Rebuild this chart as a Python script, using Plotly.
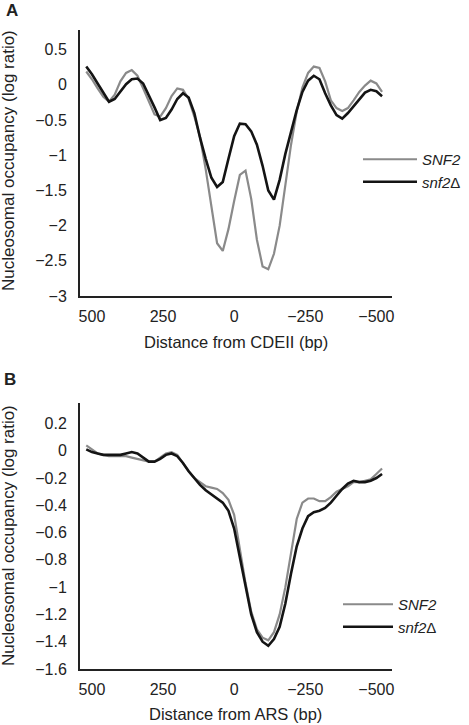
import plotly.graph_objects as go

# ---------------- data ----------------
distance_bp = [520, 500, 480, 460, 440, 420, 400, 380, 360, 340, 320, 300, 280, 260, 240, 220,
               200, 180, 160, 140, 120, 100, 80, 60, 40, 20, 0, -20, -40, -60, -80, -100,
               -120, -140, -160, -180, -200, -220, -240, -260, -280, -300, -320, -340, -360,
               -380, -400, -420, -440, -460, -480, -500, -520]

# Panel A: around CDEII
cde_snf2 = [0.19, 0.08, -0.05, -0.17, -0.24, -0.14, 0.05, 0.17, 0.21, 0.13, -0.05, -0.24, -0.42,
            -0.45, -0.33, -0.16, -0.05, -0.07, -0.20, -0.45, -0.74, -1.20, -1.75, -2.25, -2.36,
            -2.05, -1.65, -1.28, -1.22, -1.62, -2.20, -2.58, -2.62, -2.40, -2.00, -1.40, -0.85,
            -0.38, -0.04, 0.17, 0.26, 0.24, 0.05, -0.22, -0.33, -0.37, -0.33, -0.22, -0.10,
            -0.01, 0.06, 0.02, -0.10]
cde_snf2d = [0.26, 0.15, 0.02, -0.12, -0.24, -0.20, -0.09, 0.01, 0.08, 0.09, 0.02, -0.14, -0.32,
             -0.50, -0.47, -0.35, -0.20, -0.12, -0.18, -0.40, -0.75, -1.05, -1.32, -1.45, -1.38,
             -1.05, -0.73, -0.55, -0.56, -0.66, -0.85, -1.15, -1.50, -1.63, -1.35, -0.98, -0.66,
             -0.36, -0.10, 0.06, 0.13, 0.08, -0.12, -0.29, -0.43, -0.48, -0.40, -0.30, -0.20,
             -0.11, -0.07, -0.09, -0.16]

# Panel B: around ARS
ars_snf2 = [0.04, 0.01, -0.02, -0.03, -0.04, -0.04, -0.04, -0.04, -0.05, -0.06, -0.07, -0.08,
            -0.08, -0.05, -0.02, -0.01, -0.03, -0.09, -0.15, -0.20, -0.23, -0.26, -0.27, -0.28,
            -0.31, -0.36, -0.47, -0.72, -0.97, -1.18, -1.31, -1.37, -1.39, -1.33, -1.20, -1.00,
            -0.75, -0.50, -0.38, -0.35, -0.35, -0.37, -0.37, -0.34, -0.30, -0.28, -0.26, -0.23,
            -0.23, -0.22, -0.21, -0.17, -0.13]
ars_snf2d = [0.01, -0.01, -0.02, -0.03, -0.03, -0.03, -0.03, -0.02, -0.01, -0.02, -0.05, -0.08,
             -0.08, -0.06, -0.03, -0.02, -0.04, -0.09, -0.15, -0.20, -0.25, -0.29, -0.32, -0.35,
             -0.38, -0.44, -0.57, -0.78, -1.00, -1.20, -1.33, -1.40, -1.43, -1.38, -1.29, -1.12,
             -0.90, -0.70, -0.57, -0.48, -0.45, -0.44, -0.42, -0.38, -0.33, -0.28, -0.24, -0.22,
             -0.23, -0.23, -0.22, -0.20, -0.17]

x_tickvals = [500, 250, 0, -250, -500]
x_ticktext = ["500", "250", "0", "\u2212250", "\u2212500"]
yA_tickvals = [0.5, 0, -0.5, -1, -1.5, -2, -2.5, -3]
yA_ticktext = ["0.5", "0", "\u22120.5", "\u22121", "\u22121.5", "\u22122", "\u22122.5", "\u22123"]
yB_tickvals = [0.2, 0, -0.2, -0.4, -0.6, -0.8, -1, -1.2, -1.4, -1.6]
yB_ticktext = ["0.2", "0", "\u22120.2", "\u22120.4", "\u22120.6", "\u22120.8", "\u22121",
               "\u22121.2", "\u22121.4", "\u22121.6"]

series_names = ["<i>SNF2</i>", "<i>snf2</i>\u0394"]

# ---------------- style ----------------
W, H = 469, 725
FONT = "Liberation Sans, Arial, sans-serif"
GRAY = "#8a8a8a"
BLACK = "#141414"
AXIS = "#222222"

def px_x(p):
    return p / W

def px_y(p):
    return 1 - p / H

fig = go.Figure()

fig.add_trace(go.Scatter(x=distance_bp, y=cde_snf2, mode="lines", name=series_names[0],
                         line=dict(color=GRAY, width=2.2), xaxis="x", yaxis="y", legend="legend"))
fig.add_trace(go.Scatter(x=distance_bp, y=cde_snf2d, mode="lines", name=series_names[1],
                         line=dict(color=BLACK, width=2.6), xaxis="x", yaxis="y", legend="legend"))
fig.add_trace(go.Scatter(x=distance_bp, y=ars_snf2, mode="lines", name=series_names[0],
                         line=dict(color=GRAY, width=2.2), xaxis="x2", yaxis="y2", legend="legend2"))
fig.add_trace(go.Scatter(x=distance_bp, y=ars_snf2d, mode="lines", name=series_names[1],
                         line=dict(color=BLACK, width=2.6), xaxis="x2", yaxis="y2", legend="legend2"))

TICK = 16
x_dom = [px_x(80), px_x(392)]
common_x = dict(showline=True, linecolor=AXIS, linewidth=2, showgrid=False, zeroline=False,
                ticks="", tickvals=x_tickvals, ticktext=x_ticktext, range=[542, -555],
                tickfont=dict(family=FONT, size=TICK, color=AXIS), ticklabelstandoff=5)
common_y = dict(showline=True, linecolor=AXIS, linewidth=2, showgrid=False, zeroline=False,
                ticks="", tickfont=dict(family=FONT, size=TICK, color=AXIS), ticklabelstandoff=8)

legend_common = dict(xanchor="left", yanchor="top", xref="container", yref="container",
                     bgcolor="rgba(0,0,0,0)", font=dict(family=FONT, size=15, color=AXIS),
                     traceorder="normal", tracegroupgap=0)

fig.update_layout(
    width=W, height=H,
    margin=dict(l=0, r=0, t=0, b=0, autoexpand=False),
    paper_bgcolor="white", plot_bgcolor="white",
    font=dict(family=FONT, color=AXIS),
    xaxis=dict(domain=x_dom, anchor="y", **common_x),
    yaxis=dict(domain=[px_y(296), px_y(30)], anchor="x", range=[-3, 0.78],
               tickvals=yA_tickvals, ticktext=yA_ticktext, **common_y),
    xaxis2=dict(domain=x_dom, anchor="y2", **common_x),
    yaxis2=dict(domain=[px_y(669), px_y(403)], anchor="x2", range=[-1.6, 0.35],
                tickvals=yB_tickvals, ticktext=yB_ticktext, **common_y),
    legend=dict(x=px_x(358), y=px_y(143), itemwidth=54, **legend_common),
    legend2=dict(x=px_x(338), y=px_y(588), itemwidth=50, **legend_common),
    showlegend=True,
    hovermode=False,
)

ann = [
    dict(text="<b>A</b>", x=px_x(12), y=px_y(11), font=dict(size=17)),
    dict(text="<b>B</b>", x=px_x(10), y=px_y(379), font=dict(size=17)),
    dict(text="Distance from CDEII (bp)", x=px_x(236), y=px_y(342), font=dict(size=16.5)),
    dict(text="Distance from ARS (bp)", x=px_x(235), y=px_y(714), font=dict(size=16.5)),
    dict(text="Nucleosomal occupancy (log ratio)", x=px_x(8), y=px_y(161), textangle=-90,
         font=dict(size=17)),
    dict(text="Nucleosomal occupancy (log ratio)", x=px_x(8), y=px_y(536), textangle=-90,
         font=dict(size=17)),
]
for a in ann:
    a.update(xref="paper", yref="paper", showarrow=False, xanchor="center", yanchor="middle")
    a["font"].update(family=FONT, color=AXIS)
fig.update_layout(annotations=ann)

# remove the browser's default body margin so the 469x725 figure fills the window exactly
fig.write_html("out.html", config={"displayModeBar": False},
               post_script="document.body.style.margin='0';")
